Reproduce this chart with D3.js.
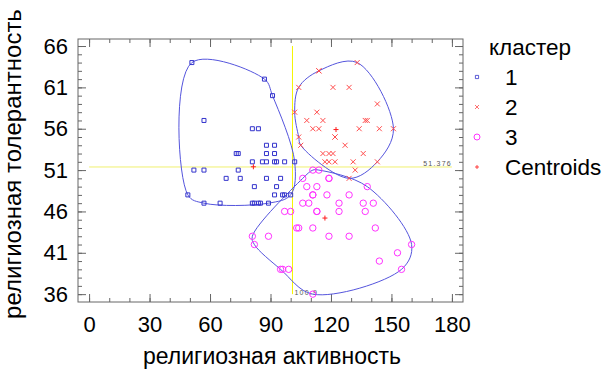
<!DOCTYPE html>
<html>
<head>
<meta charset="utf-8">
<script src="https://cdn.jsdelivr.net/npm/d3@7"></script>
<style>
  body { margin: 0; background: #fff; }
  svg { display: block; font-family: "Liberation Sans", Arial, sans-serif; }
</style>
</head>
<body>
<div id="chart"></div>
<script>
// cluster 1 (religious activity, religious tolerance)
const c1x = [51, 87, 91, 57, 81, 84, 88, 92, 73, 74, 88, 92, 81, 86, 88, 92, 93, 97, 102, 52, 57, 74, 68, 75, 88, 95, 82, 93, 49, 92, 96, 97, 100, 57, 65, 81, 82, 84, 85, 89];
const c1y = [64, 62, 60, 57, 56, 56, 54, 54, 53, 53, 53, 53, 52, 52, 52, 52, 52, 52, 52, 51, 51, 51, 50, 50, 50, 50, 49, 49, 48, 48, 48, 48, 48, 47, 47, 47, 47, 47, 47, 47];
// cluster 2
const c2x = [114, 114, 133, 104, 121, 129, 143, 102, 113, 108, 116, 137, 138, 111, 114, 134, 144, 151, 122, 122, 104, 105, 127, 116, 119, 121, 136, 117, 119, 122, 131, 143, 132, 129];
const c2y = [63, 63, 64, 61, 61, 61, 59, 58, 58, 57, 57, 57, 57, 56, 56, 56, 56, 56, 55, 55, 55, 54, 54, 53, 53, 53, 53, 52, 52, 52, 52, 52, 51, 50];
// cluster 3
const c3x = [106, 111, 114, 119, 119, 138, 108, 113, 111, 111, 118, 129, 106, 109, 124, 136, 141, 97, 100, 113, 113, 124, 137, 103, 104, 111, 142, 81, 89, 119, 129, 82, 160, 153, 144, 95, 96, 99, 155, 111];
const c3y = [50, 51, 51, 50, 50, 49, 49, 49, 48, 48, 48, 48, 47, 47, 47, 47, 47, 46, 46, 46, 46, 46, 46, 44, 44, 44, 44, 43, 43, 43, 43, 42, 42, 41, 40, 39, 39, 39, 39, 36];
// centroids
const centX = [81.5, 122.5, 117];
const centY = [51.4, 55.9, 45.2];
// reference lines
const meanX = 100.9;
const meanY = 51.376;

const xTicks = [0, 30, 60, 90, 120, 150, 180];
const yTicks = [36, 41, 46, 51, 56, 61, 66];
const legendLabels = ["1", "2", "3", "Centroids"];

const margin = { left: 78, top: 39 };
const width = 385;
const height = 263;

const svg = d3
  .select("#chart")
  .append("svg")
  .attr("width", 606)
  .attr("height", 370);

const g = svg.append("g").attr("transform", `translate(${margin.left}, ${margin.top})`);

const x = d3.scaleLinear().domain([-5.5, 185.5]).range([0, width]);
const y = d3.scaleLinear().domain([35.05, 66.85]).range([height, 0]);

const xMinor = d3.range(0, 181, 10);
const yMinor = d3.range(36, 67, 1);

// axes, ticks pointing inward
function tidy(sel) {
  sel.select(".domain").remove();
  sel.attr("font-family", null).attr("font-size", 22);
  sel.selectAll("line").attr("stroke", "#666");
  sel.selectAll("text").attr("fill", "#000");
}

g.append("g").attr("transform", `translate(0, ${height})`)
  .call(d3.axisBottom(x).tickValues(xMinor).tickSize(-4).tickFormat("")).call(tidy);
g.append("g").attr("transform", `translate(0, ${height})`)
  .call(d3.axisBottom(x).tickValues(xTicks).tickSize(-8).tickPadding(14)).call(tidy);
g.append("g").call(d3.axisTop(x).tickValues(xMinor).tickSize(-4).tickFormat("")).call(tidy);
g.append("g").call(d3.axisTop(x).tickValues(xTicks).tickSize(-8).tickFormat("")).call(tidy);

g.append("g").call(d3.axisLeft(y).tickValues(yMinor).tickSize(-4).tickFormat("")).call(tidy);
g.append("g").call(d3.axisLeft(y).tickValues(yTicks).tickSize(-8).tickPadding(10)).call(tidy);
g.append("g").attr("transform", `translate(${width}, 0)`)
  .call(d3.axisRight(y).tickValues(yMinor).tickSize(-4).tickFormat("")).call(tidy);
g.append("g").attr("transform", `translate(${width}, 0)`)
  .call(d3.axisRight(y).tickValues(yTicks).tickSize(-8).tickFormat("")).call(tidy);

g.append("rect")
  .attr("width", width)
  .attr("height", height)
  .attr("fill", "none")
  .attr("stroke", "#666");

// mean lines
g.append("line")
  .attr("x1", x(0)).attr("x2", x(180))
  .attr("y1", y(meanY)).attr("y2", y(meanY))
  .attr("stroke", "#f0f070");
g.append("line")
  .attr("x1", x(meanX)).attr("x2", x(meanX))
  .attr("y1", y(36)).attr("y2", y(66))
  .attr("stroke", "#f5f500");

g.append("text")
  .attr("x", x(180)).attr("y", y(meanY) - 1)
  .attr("text-anchor", "end")
  .attr("font-size", 7)
  .attr("letter-spacing", 1.2)
  .attr("fill", "#555")
  .text(String(meanY));
g.append("text")
  .attr("x", x(meanX) + 2).attr("y", y(36) + 1)
  .attr("font-size", 7)
  .attr("letter-spacing", 1.2)
  .attr("fill", "#555")
  .text(String(meanX));

const clusters = [
  { xs: c1x, ys: c1y },
  { xs: c2x, ys: c2y },
  { xs: c3x, ys: c3y },
];

// smooth hulls round each cluster
const hullLine = d3.line().curve(d3.curveCatmullRomClosed.alpha(0.5));
clusters.forEach((c) => {
  const pts = c.xs.map((v, i) => [x(v), y(c.ys[i])]);
  const hull = d3.polygonHull(pts);
  g.append("path")
    .attr("d", hullLine(hull))
    .attr("fill", "none")
    .attr("stroke", "#5555dd")
    .attr("stroke-width", 1);
});

const blue = "#3333cc";
const red = "#ff4d4d";
const magenta = "#ff33ff";
const cent = "#ff1a1a";

const symSquare = "M-2,-2H2V2H-2Z";
const symX = "M-2.5,-2.5L2.5,2.5M-2.5,2.5L2.5,-2.5";
const symPlus = "M-2.5,0H2.5M0,-2.5V2.5";

g.selectAll(".p1")
  .data(c1x)
  .enter()
  .append("path")
  .attr("class", "p1")
  .attr("transform", (d, i) => `translate(${x(d)}, ${y(c1y[i])})`)
  .attr("d", symSquare)
  .attr("fill", "none")
  .attr("stroke", blue);

g.selectAll(".p2")
  .data(c2x)
  .enter()
  .append("path")
  .attr("class", "p2")
  .attr("transform", (d, i) => `translate(${x(d)}, ${y(c2y[i])})`)
  .attr("d", symX)
  .attr("fill", "none")
  .attr("stroke", red);

g.selectAll(".p3")
  .data(c3x)
  .enter()
  .append("circle")
  .attr("class", "p3")
  .attr("cx", (d) => x(d))
  .attr("cy", (d, i) => y(c3y[i]))
  .attr("r", 3.2)
  .attr("fill", "none")
  .attr("stroke", magenta);

g.selectAll(".cent")
  .data(centX)
  .enter()
  .append("path")
  .attr("class", "cent")
  .attr("transform", (d, i) => `translate(${x(d)}, ${y(centY[i])})`)
  .attr("d", symPlus)
  .attr("fill", "none")
  .attr("stroke", cent);

// axis titles
svg.append("text")
  .attr("x", 272)
  .attr("y", 364)
  .attr("text-anchor", "middle")
  .attr("font-size", 23)
  .text("религиозная активность");

svg.append("text")
  .attr("transform", "translate(21, 164) rotate(-90)")
  .attr("text-anchor", "middle")
  .attr("font-size", 24)
  .text("религиозная толерантность");

// legend
const legend = svg.append("g");
legend.append("text")
  .attr("x", 489)
  .attr("y", 55)
  .attr("font-size", 22.5)
  .text("кластер");

const legendSyms = [
  (s) => s.append("path").attr("d", symSquare).attr("fill", "none").attr("stroke", blue).attr("transform", "scale(0.8)"),
  (s) => s.append("path").attr("d", symX).attr("fill", "none").attr("stroke", red).attr("transform", "scale(0.8)"),
  (s) => s.append("circle").attr("r", 3).attr("fill", "none").attr("stroke", magenta),
  (s) => s.append("path").attr("d", symPlus).attr("fill", "none").attr("stroke", cent).attr("transform", "scale(0.8)"),
];

legendLabels.forEach((lab, i) => {
  const row = legend.append("g").attr("transform", `translate(0, ${77 + i * 30})`);
  legendSyms[i](row.append("g").attr("transform", "translate(477, 0)"));
  row.append("text")
    .attr("x", 505)
    .attr("y", 8)
    .attr("font-size", 22.5)
    .text(lab);
});
</script>
</body>
</html>
